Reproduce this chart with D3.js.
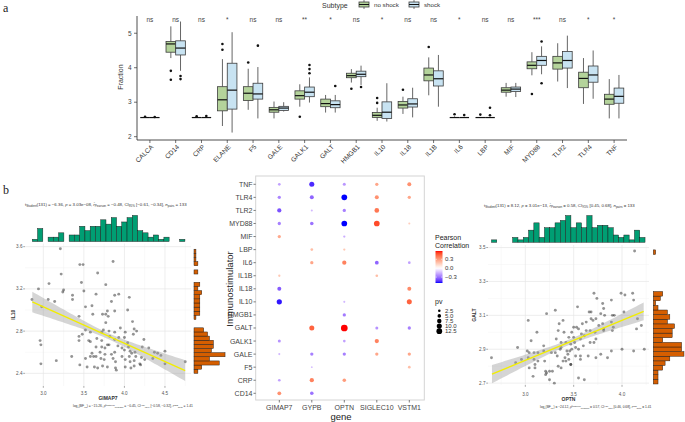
<!DOCTYPE html>
<html><head><meta charset="utf-8">
<script src="https://cdn.jsdelivr.net/npm/d3@7"></script>
<style>body{margin:0;background:#fff}svg{display:block;font-family:"Liberation Sans",Arial,sans-serif}</style>
</head><body><svg id="c" width="685" height="422"></svg>
<script>
// ================= DATA =================
// Panel a : boxplots
const boxCats = ["CALCA","CD14","CRP","ELANE","F5","GALE","GALK1","GALT","HMGB1","IL10","IL18","IL1B","IL6","LBP","MIF","MYD88","TLR2","TLR4","TNF"];
const sigLabels = ["ns","ns","ns","*","ns","ns","**","*","ns","*","ns","ns","*","ns","ns","***","ns","*","*"];
const yTicksA = [2,3,4,5];
// [lower whisker, q1, median, q3, upper whisker]
const noShockStats = [
 [2.555,2.555,2.555,2.555,2.555],[4.28,4.45,4.69,4.76,5.20],[2.555,2.555,2.555,2.555,2.555],[2.31,2.75,3.07,3.45,4.25],
 [2.78,3.05,3.26,3.45,3.97],[2.53,2.71,2.78,2.85,3.02],[2.87,3.09,3.19,3.33,3.52],[2.70,2.87,2.96,3.09,3.21],
 [3.57,3.71,3.77,3.84,3.96],[2.46,2.56,2.62,2.70,2.84],[2.66,2.83,2.92,3.02,3.16],[3.20,3.62,3.79,3.99,4.30],
 [2.555,2.555,2.555,2.555,2.59],[2.555,2.555,2.555,2.555,2.555],[3.16,3.29,3.35,3.42,3.56],[3.78,3.97,4.07,4.17,4.45],
 [3.60,3.96,4.14,4.33,4.71],[2.95,3.42,3.69,3.87,4.28],[2.53,2.94,3.09,3.23,3.67]];
const shockStats = [
 [2.555,2.555,2.555,2.555,2.555],[3.91,4.37,4.57,4.78,5.34],[2.555,2.555,2.555,2.555,2.555],[2.12,2.80,3.35,4.13,5.03],
 [2.53,3.09,3.24,3.55,4.02],[2.73,2.76,2.83,2.88,3.00],[2.99,3.16,3.29,3.44,3.72],[2.70,2.84,2.93,3.04,3.21],
 [3.50,3.74,3.81,3.90,4.06],[2.44,2.53,2.71,3.01,3.55],[2.56,2.86,2.95,3.10,3.42],[2.87,3.47,3.68,3.91,4.37],
 [2.555,2.555,2.555,2.555,2.58],[2.555,2.555,2.555,2.555,2.555],[3.15,3.31,3.38,3.44,3.56],[3.81,4.07,4.21,4.33,4.62],
 [3.41,3.99,4.21,4.47,4.93],[3.10,3.58,3.79,4.05,4.50],[2.53,2.97,3.17,3.41,3.79]];
const noShockOut = [[2.58],[3.91,3.65],[2.59],[4.69,4.52],[4.15],[],[2.58],[],[3.39],[3.12,2.98],[3.36],[4.60],[2.65],[2.64],[],[3.24],[],[],[]];
const shockOut   = [[2.57],[3.76,3.67],[2.60],[],[4.64],[],[4.08,3.96,3.84],[3.47],[3.44],[],[],[],[2.63],[2.62,2.84],[],[4.76,3.55],[],[],[]];

// Panel b middle : dot plot
const genes = ["GIMAP7","GYPB","OPTN","SIGLEC10","VSTM1"];
const immuno = ["TNF","TLR4","TLR2","MYD88","MIF","LBP","IL6","IL1B","IL18","IL10","HMGB1","GALT","GALK1","GALE","F5","CRP","CD14"];
// rows follow immuno, columns follow genes (null = not shown)
const corrRows = [
 [-0.20,-0.45,-0.22, 0.27, 0.33],
 [-0.26,-0.33,-0.50, 0.33, 0.27],
 [-0.37,-0.15,-0.27, 0.40, null],
 [-0.27,-0.30,-0.50, 0.50, 0.15],
 [ 0.26, null,-0.17, null, null],
 [ null, 0.20, 0.17, null, null],
 [ null, 0.27, 0.37,-0.33,-0.20],
 [ 0.17, null, null, 0.20, null],
 [-0.35, null, null, null, 0.35],
 [-0.48, null,-0.15, null, 0.45],
 [ null, null,-0.28, null, null],
 [ null, 0.45, 0.58,-0.23,-0.27],
 [-0.23, null,-0.20, 0.37, null],
 [-0.15,-0.27,-0.27, 0.27, 0.27],
 [ null,-0.13, null, null, 0.20],
 [-0.20, 0.37, 0.30, null, null],
 [ 0.33,-0.30, null, null, null]];
const pvRows = [
 [2.0, 7.0, 2.5, 3.0, 4.4],
 [3.0, 4.4, 9.0, 4.4, 3.0],
 [5.0, 1.2, 3.0, 6.0, null],
 [3.0, 3.5, 9.0, 9.0, 1.2],
 [3.0, null,1.5, null,null],
 [null,2.0, 1.5, null,null],
 [null,3.0, 5.0, 4.0, 2.0],
 [1.5, null,null,2.0, null],
 [4.4, null,null,null,4.4],
 [7.5, null,1.2, null,7.0],
 [null,null,3.0, null,null],
 [null,7.0, 12.5,2.5, 3.0],
 [2.5, null,2.0, 5.0, null],
 [1.2, 3.0, 3.0, 3.0, 3.0],
 [null,1.0, null,null,2.0],
 [2.0, 5.0, 3.5, null,null],
 [4.0, 3.5, null,null,null]];
const corrLegendTicks = [0.3, 0.0, -0.3];
const pvLegendValues = [2.5, 5.0, 7.5, 10.0, 12.5];

// Panel b left : GIMAP7 vs IL10
const leftX = [3.21,3.45,3.49,3.86,3.22,3.67,3.07,2.94,3.25,3.24,3.47,3.50,3.77,3.36,3.36,3.65,3.88,3.93,4.06,2.86,3.06,3.14,2.98,3.84,3.52,3.60,3.79,3.88,4.04,3.61,3.73,3.77,3.44,3.77,4.10,3.52,3.58,3.74,3.81,3.95,3.88,4.12,4.15,4.11,3.44,3.48,3.44,3.56,3.66,3.72,3.82,3.93,4.00,2.96,2.97,3.65,3.72,3.79,3.81,3.92,3.97,4.00,4.05,4.07,4.13,4.24,4.22,4.30,4.37,4.41,4.50,4.45,3.60,3.65,3.70,3.76,3.84,3.88,3.97,4.06,4.09,4.14,3.35,3.52,3.58,3.71,3.75,3.86,3.89,4.01,4.07,4.12,4.19,4.21,4.25,3.16,2.97,3.45,3.54,3.63,3.67,3.73,3.79,3.90,3.89,4.01,4.08,4.12,4.20,4.50,4.75,4.35,4.04,3.88,3.58,3.76,3.62,3.80,3.72,4.01];
const leftY = [3.58,3.43,3.43,3.46,3.34,3.35,3.25,3.20,3.19,3.17,3.26,3.18,3.24,3.14,3.10,3.15,3.14,3.15,3.12,3.10,3.10,3.08,3.03,3.08,3.03,3.04,2.99,2.99,3.00,2.96,2.96,2.96,2.94,2.88,2.89,2.81,2.79,2.81,2.80,2.83,2.79,2.82,2.80,2.77,2.75,2.77,2.71,2.71,2.73,2.71,2.75,2.74,2.74,2.71,2.67,2.65,2.65,2.67,2.67,2.66,2.64,2.62,2.65,2.61,2.60,2.72,2.65,2.64,2.60,2.59,2.61,2.57,2.59,2.56,2.60,2.58,2.58,2.60,2.56,2.56,2.59,2.56,2.56,2.54,2.56,2.54,2.53,2.54,2.51,2.53,2.51,2.52,2.49,2.55,2.53,2.52,2.49,2.48,2.46,2.46,2.45,2.47,2.46,2.43,2.45,2.46,2.45,2.47,2.48,2.49,2.51,2.54,2.69,2.72,2.70,2.64,2.56,2.94,2.79,2.79];
const leftFit = {intercept: 4.064, slope: -0.345, xFrom: 2.864, xTo: 4.749, seMid: 0.028, seSlope: 0.10, xMean: 3.8};
const leftTopHist = {start: 2.864, width: 0.0649, counts: [1,6,0,2,2,4,0,3,3,7,5,7,7,10,8,11,7,9,11,12,5,4,2,3,1,2,0,0,1]};
const leftSideHist = {start: 2.40, width: 0.0392, counts: [2,4,13,8,16,9,10,10,8,7,5,0,0,1,3,3,3,3,3,4,2,3,0,0,2,0,2,1,1,1]};
const leftXTicks = [3.0,3.5,4.0,4.5], leftYTicks = [2.4,2.8,3.2,3.6];

// Panel b right : OPTN vs GALT
const rightX = [4.13,2.65,3.71,3.74,3.99,4.03,4.11,4.12,3.80,3.89,3.54,3.31,3.22,3.66,3.68,3.81,3.78,3.82,3.90,3.92,4.02,4.16,3.03,3.39,3.35,3.50,3.53,3.59,3.63,3.68,3.70,3.76,3.80,3.89,3.91,4.20,4.15,3.12,3.34,3.40,3.48,3.45,3.58,3.63,3.67,3.72,3.81,3.90,3.06,3.19,3.32,3.37,3.42,3.47,3.51,3.57,3.61,3.67,3.71,3.73,2.92,3.02,3.04,3.09,3.13,3.19,3.27,3.31,3.36,3.43,3.46,3.48,3.52,3.55,3.60,3.33,3.41,3.44,3.45,3.52,3.57,3.57,3.65,3.73,3.78,3.89,4.00,4.12,4.23,3.85,2.96,2.90,3.03,3.09,3.13,3.20,3.39,3.42,3.47,3.10,3.04,3.10,3.34,3.37,3.47,3.25,3.22,3.28,3.21,3.08,3.25,3.30,3.55,3.61,3.21,3.37,3.50,3.55,3.73,3.81];
const rightY = [3.48,2.85,3.23,3.20,3.23,3.22,3.23,3.19,3.17,3.19,3.15,3.13,3.11,3.12,3.12,3.14,3.11,3.10,3.10,3.10,3.12,3.08,3.07,3.07,3.05,3.03,3.03,3.05,3.06,3.08,3.07,3.04,3.05,3.06,3.03,3.04,3.02,3.00,3.01,3.00,3.00,2.97,2.99,3.01,3.01,3.00,3.01,3.01,2.95,2.92,2.96,2.94,2.94,2.93,2.94,2.96,2.98,2.94,2.94,2.96,2.91,2.89,2.88,2.88,2.88,2.89,2.88,2.88,2.90,2.89,2.89,2.90,2.91,2.90,2.92,2.86,2.85,2.87,2.84,2.86,2.84,2.86,2.86,2.85,2.87,2.89,2.90,2.89,2.90,2.85,2.84,2.82,2.85,2.84,2.83,2.83,2.83,2.83,2.81,2.81,2.79,2.79,2.80,2.79,2.81,2.77,2.76,2.77,2.75,2.74,2.72,2.70,2.73,2.72,2.77,2.91,2.97,3.02,3.08,3.02];
const rightFit = {intercept: 2.1264, slope: 0.236, xFrom: 2.655, xTo: 4.224, seMid: 0.016, seSlope: 0.065, xMean: 3.45};
const rightTopHist = {start: 2.650, width: 0.05476, counts: [1,0,0,0,2,1,2,5,8,2,6,6,8,9,11,6,8,6,11,6,7,7,6,3,2,3,1,5,2]};
const rightSideHist = {start: 2.695, width: 0.02728, counts: [2,2,2,4,5,7,13,12,12,4,8,8,9,6,7,6,2,1,3,4,0,0,0,0,0,0,0,0,1]};
const rightXTicks = [3.0,3.5,4.0], rightYTicks = [2.7,2.9,3.1,3.3,3.5];

// ================= DRAW =================
const svg = d3.select("#c");
svg.append("rect").attr("width",685).attr("height",422).attr("fill","#fff");

svg.append("text").attr("x",3).attr("y",12).attr("font-family","Liberation Serif, serif").attr("font-size",12).attr("fill","#222").text("a");
svg.append("text").attr("x",3).attr("y",194).attr("font-family","Liberation Serif, serif").attr("font-size",12).attr("fill","#222").text("b");

// ---------- panel a ----------
const gA = svg.append("g");
const xb = d3.scaleBand().domain(boxCats).range([137,627]);
const yb = d3.scaleLinear().domain([1.904,5.5]).range([140,16]);
const boxW = xb.bandwidth()*0.75/2;
const grpA = [
 {label:"no shock", stats:noShockStats, out:noShockOut, fill:"#b4d39b", off:-0.5},
 {label:"shock", stats:shockStats, out:shockOut, fill:"#c8e3f2", off:0.5}];
const stroke = "#3c3c3c";
grpA.forEach(g=>{
  boxCats.forEach((c,i)=>{
    const [lo,q1,md,q3,hi] = g.stats[i];
    const cx = xb(c)+xb.bandwidth()/2 + g.off*boxW;
    gA.append("line").attr("x1",cx).attr("x2",cx).attr("y1",yb(hi)).attr("y2",yb(q3)).attr("stroke","#555").attr("stroke-width",0.9);
    gA.append("line").attr("x1",cx).attr("x2",cx).attr("y1",yb(lo)).attr("y2",yb(q1)).attr("stroke","#555").attr("stroke-width",0.9);
    gA.append("rect").attr("x",cx-boxW/2).attr("y",yb(q3)).attr("width",boxW).attr("height",Math.max(yb(q1)-yb(q3),0))
      .attr("fill",g.fill).attr("stroke",stroke).attr("stroke-width",0.8);
    gA.append("line").attr("x1",cx-boxW/2).attr("x2",cx+boxW/2).attr("y1",yb(md)).attr("y2",yb(md)).attr("stroke","#111").attr("stroke-width",1.2);
    g.out[i].forEach(v=>gA.append("circle").attr("cx",cx).attr("cy",yb(v)).attr("r",1.3).attr("fill","#111"));
  });
});
// axes
gA.append("line").attr("x1",137).attr("x2",137).attr("y1",16).attr("y2",140).attr("stroke","#222").attr("stroke-width",0.8);
gA.append("line").attr("x1",137).attr("x2",627).attr("y1",140).attr("y2",140).attr("stroke","#222").attr("stroke-width",0.8);
yTicksA.forEach(t=>{
  gA.append("line").attr("x1",134).attr("x2",137).attr("y1",yb(t)).attr("y2",yb(t)).attr("stroke","#333").attr("stroke-width",0.7);
  gA.append("text").attr("x",131.5).attr("y",yb(t)).attr("dy","0.35em").attr("text-anchor","end").attr("font-size",6.5).attr("fill","#444").text(t);
});
boxCats.forEach((c,i)=>{
  const cx = xb(c)+xb.bandwidth()/2;
  gA.append("line").attr("x1",cx).attr("x2",cx).attr("y1",140).attr("y2",143).attr("stroke","#333").attr("stroke-width",0.7);
  gA.append("text").attr("transform",`translate(${cx+2.5},${146}) rotate(-45)`).attr("text-anchor","end").attr("dy","0.3em")
    .attr("font-size",6.6).attr("fill","#333").text(c);
  gA.append("text").attr("x",cx).attr("y",22).attr("text-anchor","middle").attr("font-size",6.5).attr("fill","#444").text(sigLabels[i]);
});
gA.append("text").attr("transform","translate(123,77) rotate(-90)").attr("text-anchor","middle").attr("font-size",7).attr("fill","#333").text("Fraction");
// legend
const lg = gA.append("g");
lg.append("text").attr("x",322).attr("y",7.5).attr("font-size",7).attr("fill","#333").text("Subtype");
[{x:359,fill:"#b4d39b",t:"no shock",tx:374},{x:409,fill:"#c8e3f2",t:"shock",tx:424}].forEach(k=>{
  lg.append("line").attr("x1",k.x+5).attr("x2",k.x+5).attr("y1",0).attr("y2",9).attr("stroke","#555").attr("stroke-width",0.8);
  lg.append("rect").attr("x",k.x).attr("y",2).attr("width",10).attr("height",5).attr("fill",k.fill).attr("stroke",stroke).attr("stroke-width",0.8);
  lg.append("line").attr("x1",k.x).attr("x2",k.x+10).attr("y1",4.5).attr("y2",4.5).attr("stroke","#111").attr("stroke-width",1);
  lg.append("text").attr("x",k.tx).attr("y",7).attr("font-size",6.2).attr("fill","#333").text(k.t);
});

// ---------- dot plot ----------
const gD = svg.append("g");
const xd = d3.scalePoint().domain(genes).range([279.3,409.3]);
const yd = d3.scalePoint().domain(immuno).range([184.3,393.3]);
const allCorr = corrRows.flat().filter(v=>v!==null);
const cMin = d3.min(allCorr), cMax = d3.max(allCorr);
const colorOf = v => v<0 ? d3.interpolateLab("#ffffff","#0000ff")(v/cMin) : d3.interpolateLab("#ffffff","#ff0000")(v/cMax);
const rOf = pv => 0.95*Math.sqrt(pv);
gD.append("rect").attr("x",255.7).attr("y",176).attr("width",168.6).attr("height",224).attr("fill","#fff").attr("stroke","#d4d4d4").attr("stroke-width",1);
immuno.forEach((im,i)=>{
  genes.forEach((ge,j)=>{
    const c = corrRows[i][j], p = pvRows[i][j];
    if(c===null||p===null) return;
    gD.append("circle").attr("cx",xd(ge)).attr("cy",yd(im)).attr("r",rOf(p)).attr("fill",colorOf(c));
  });
  gD.append("line").attr("x1",253.5).attr("x2",255.7).attr("y1",yd(im)).attr("y2",yd(im)).attr("stroke","#444").attr("stroke-width",0.7);
  gD.append("text").attr("x",252.5).attr("y",yd(im)).attr("dy","0.35em").attr("text-anchor","end").attr("font-size",7).attr("fill","#444").text(im);
});
genes.forEach(ge=>{
  gD.append("line").attr("x1",xd(ge)).attr("x2",xd(ge)).attr("y1",400).attr("y2",402.5).attr("stroke","#444").attr("stroke-width",0.7);
  gD.append("text").attr("x",xd(ge)).attr("y",410).attr("text-anchor","middle").attr("font-size",7).attr("fill","#444").text(ge);
});
gD.append("text").attr("x",341).attr("y",420).attr("text-anchor","middle").attr("font-size",9.5).attr("fill","#222").text("gene");
gD.append("text").attr("transform","translate(233,289) rotate(-90)").attr("text-anchor","middle").attr("font-size",9.5).attr("fill","#222").text("Immunostimulator");
// colour legend
gD.append("text").attr("x",435).attr("y",240).attr("font-size",7).attr("fill","#222").text("Pearson");
gD.append("text").attr("x",435).attr("y",247.5).attr("font-size",7).attr("fill","#222").text("Correlation");
const barTop = 251, barBot = 283;
const cbScale = d3.scaleLinear().domain([cMin,cMax]).range([barBot,barTop]);
const grad = svg.append("defs").append("linearGradient").attr("id","cb").attr("x1",0).attr("y1",1).attr("x2",0).attr("y2",0);
d3.range(0,1.0001,0.05).forEach(t=>{
  const v = cMin + t*(cMax-cMin);
  grad.append("stop").attr("offset",t).attr("stop-color",colorOf(v));
});
gD.append("rect").attr("x",435.5).attr("y",barTop).attr("width",7).attr("height",barBot-barTop).attr("fill","url(#cb)");
corrLegendTicks.forEach(t=>{
  gD.append("line").attr("x1",435.5).attr("x2",437).attr("y1",cbScale(t)).attr("y2",cbScale(t)).attr("stroke","#fff").attr("stroke-width",0.5);
  gD.append("line").attr("x1",441).attr("x2",442.5).attr("y1",cbScale(t)).attr("y2",cbScale(t)).attr("stroke","#fff").attr("stroke-width",0.5);
  gD.append("text").attr("x",445).attr("y",cbScale(t)).attr("dy","0.35em").attr("font-size",6).attr("fill","#333").text(t===0?"0.0":(t<0?"\u22120.3":"0.3"));
});
gD.append("text").attr("x",435).attr("y",304).attr("font-size",7).attr("fill","#222").text("pv");
pvLegendValues.forEach((v,i)=>{
  const cy = 310.8 + i*5.1;
  gD.append("circle").attr("cx",439.3).attr("cy",cy).attr("r",rOf(v)*0.85).attr("fill","#000");
  gD.append("text").attr("x",445).attr("y",cy).attr("dy","0.35em").attr("font-size",6).attr("fill","#333").text(v.toFixed(1));
});

// ---------- rich text helper ----------
function rich(g, x, y, parts, targetW, anchor){
  function build(fs){
    const t = g.append("text").attr("x",x).attr("y",y).attr("font-size",fs).attr("fill","#333").attr("text-anchor",anchor||"start");
    let shift = 0;
    parts.forEach(([s,k])=>{
      const target = k==="sub"?0.28*fs:(k==="sup"?-0.38*fs:0);
      const ts = t.append("tspan").text(s).attr("dy",target-shift);
      shift = target;
      if(k==="sub"||k==="sup") ts.attr("font-size",fs*0.7);
      if(k==="i") ts.attr("font-style","italic");
    });
    return t;
  }
  const t0 = build(10);
  const w = t0.node().getComputedTextLength();
  t0.remove();
  return build(10*targetW/w);
}

// ---------- scatter helper ----------
function scatter(cfg){
  const g = svg.append("g");
  const x = d3.scaleLinear().domain(cfg.xDomain).range([cfg.x0,cfg.x1]);
  const y = d3.scaleLinear().domain(cfg.yDomain).range([cfg.y1,cfg.y0]);
  const xStep = cfg.xTicks[1]-cfg.xTicks[0], yStep = cfg.yTicks[1]-cfg.yTicks[0];
  const xMinor = d3.range(cfg.xTicks[0]-xStep/2, cfg.xDomain[1], xStep).filter(v=>v>cfg.xDomain[0]);
  const yMinor = d3.range(cfg.yTicks[0]-yStep/2, cfg.yDomain[1], yStep).filter(v=>v>cfg.yDomain[0]);
  xMinor.forEach(v=>g.append("line").attr("x1",x(v)).attr("x2",x(v)).attr("y1",cfg.y0).attr("y2",cfg.y1).attr("stroke","#f3f3f3").attr("stroke-width",0.5));
  yMinor.forEach(v=>g.append("line").attr("y1",y(v)).attr("y2",y(v)).attr("x1",cfg.x0).attr("x2",cfg.x1).attr("stroke","#f3f3f3").attr("stroke-width",0.5));
  cfg.xTicks.forEach(v=>g.append("line").attr("x1",x(v)).attr("x2",x(v)).attr("y1",cfg.y0).attr("y2",cfg.y1).attr("stroke","#e6e6e6").attr("stroke-width",0.7));
  cfg.yTicks.forEach(v=>g.append("line").attr("y1",y(v)).attr("y2",y(v)).attr("x1",cfg.x0).attr("x2",cfg.x1).attr("stroke","#e6e6e6").attr("stroke-width",0.7));
  // points
  cfg.px.forEach((v,i)=>g.append("circle").attr("cx",x(v)).attr("cy",y(cfg.py[i])).attr("r",1.45).attr("fill","#000").attr("fill-opacity",0.42));
  // band + line
  const f = cfg.fit;
  const xs = d3.range(f.xFrom, f.xTo+1e-9, (f.xTo-f.xFrom)/60);
  const hw = v => Math.sqrt(f.seMid*f.seMid + f.seSlope*f.seSlope*(v-f.xMean)*(v-f.xMean));
  const fy = v => f.intercept + f.slope*v;
  g.append("path").attr("d", d3.area().x(v=>x(v)).y0(v=>y(fy(v)-hw(v))).y1(v=>y(fy(v)+hw(v)))(xs)).attr("fill","#9a9a9a").attr("fill-opacity",0.42);
  g.append("line").attr("x1",x(f.xFrom)).attr("y1",y(fy(f.xFrom))).attr("x2",x(f.xTo)).attr("y2",y(fy(f.xTo))).attr("stroke","#f2ee00").attr("stroke-width",1.4);
  // axis ticks and labels
  cfg.xTicks.forEach(v=>{
    g.append("line").attr("x1",x(v)).attr("x2",x(v)).attr("y1",cfg.y1).attr("y2",cfg.y1+1.8).attr("stroke","#555").attr("stroke-width",0.5);
    g.append("text").attr("x",x(v)).attr("y",cfg.xLabY).attr("text-anchor","middle").attr("font-size",4.6).attr("fill","#555").text(v.toFixed(1));
  });
  cfg.yTicks.forEach(v=>{
    g.append("line").attr("x1",cfg.x0-1.8).attr("x2",cfg.x0).attr("y1",y(v)).attr("y2",y(v)).attr("stroke","#555").attr("stroke-width",0.5);
    g.append("text").attr("x",cfg.x0-2.5).attr("y",y(v)).attr("dy","0.35em").attr("text-anchor","end").attr("font-size",4.6).attr("fill","#555").text(v.toFixed(1));
  });
  g.append("text").attr("x",(cfg.x0+cfg.x1)/2).attr("y",cfg.xTitleY).attr("text-anchor","middle").attr("font-size",5).attr("font-weight","bold").attr("fill","#333").text(cfg.xName);
  g.append("text").attr("transform",`translate(${cfg.yTitleX},${(cfg.y0+cfg.y1)/2}) rotate(-90)`).attr("text-anchor","middle").attr("font-size",5).attr("font-weight","bold").attr("fill","#333").text(cfg.yName);
  // top histogram
  const th = cfg.topHist;
  th.counts.forEach((c,i)=>{
    const xa = x(th.start+i*th.width), xb2 = x(th.start+(i+1)*th.width);
    g.append("rect").attr("x",xa).attr("width",xb2-xa).attr("y",cfg.topBase-c*cfg.topK).attr("height",c*cfg.topK)
      .attr("fill","#009e73").attr("stroke","#1a1a1a").attr("stroke-width",0.45);
  });
  // side histogram
  const sh = cfg.sideHist;
  sh.counts.forEach((c,i)=>{
    const ya = y(sh.start+(i+1)*sh.width), yb2 = y(sh.start+i*sh.width);
    g.append("rect").attr("y",ya).attr("height",yb2-ya).attr("x",cfg.sideBase).attr("width",c*cfg.sideK)
      .attr("fill","#d55e00").attr("stroke","#1a1a1a").attr("stroke-width",0.45);
  });
  return g;
}

const gL = scatter({x0:25,x1:191,y0:243.5,y1:386,xDomain:[2.774,4.821],yDomain:[2.28,3.63],
  xTicks:leftXTicks,yTicks:leftYTicks,px:leftX,py:leftY,fit:leftFit,topHist:leftTopHist,sideHist:leftSideHist,
  topBase:241.5,topK:2.17,sideBase:194,sideK:1.94,xLabY:394.5,xTitleY:399.5,yTitleX:15,xName:"GIMAP7",yName:"IL10"});
const gR = scatter({x0:488,x1:649,y0:245,y1:385,xDomain:[2.614,4.279],yDomain:[2.689,3.515],
  xTicks:rightXTicks,yTicks:rightYTicks,px:rightX,py:rightY,fit:rightFit,topHist:rightTopHist,sideHist:rightSideHist,
  topBase:242.3,topK:2.43,sideBase:653.3,sideK:2.36,xLabY:395.5,xTitleY:400.5,yTitleX:476,xName:"OPTN",yName:"GALT"});

rich(gL, 25, 205.5, [["t",""],["Student","sub"],["(131) = \u22126.36, ",""],["p","i"],[" = 3.03e\u221208, ",""],["r\u0302","i"],["Pearson","sub"],[" = \u22120.48, CI",""],["95%","sub"],[" [\u22120.61, \u22120.34], ",""],["n","i"],["pairs","sub"],[" = 133",""]], 162);
rich(gL, 73, 407, [["log",""],["e","sub"],["(BF",""],["01","sub"],[") = \u221215.26, ",""],["\u03c1\u0302","i"],["posterior","sup"],["Pearson","sub"],[" = \u22120.45, CI",""],["HDI","sup"],["95%","sub"],[" [\u22120.58, \u22120.32], ",""],["r","i"],["JZS","sup"],["beta","sub"],[" = 1.41",""]], 120);
rich(gR, 484, 207, [["t",""],["Student","sub"],["(131) = 8.12, ",""],["p","i"],[" = 3.01e\u221213, ",""],["r\u0302","i"],["Pearson","sub"],[" = 0.58, CI",""],["95%","sub"],[" [0.45, 0.68], ",""],["n","i"],["pairs","sub"],[" = 133",""]], 151);
rich(gR, 540, 408, [["log",""],["e","sub"],["(BF",""],["01","sub"],[") = \u221224.12, ",""],["\u03c1\u0302","i"],["posterior","sup"],["Pearson","sub"],[" = 0.57, CI",""],["HDI","sup"],["95%","sub"],[" [0.46, 0.68], ",""],["r","i"],["JZS","sup"],["beta","sub"],[" = 1.41",""]], 112);
</script></body></html>
